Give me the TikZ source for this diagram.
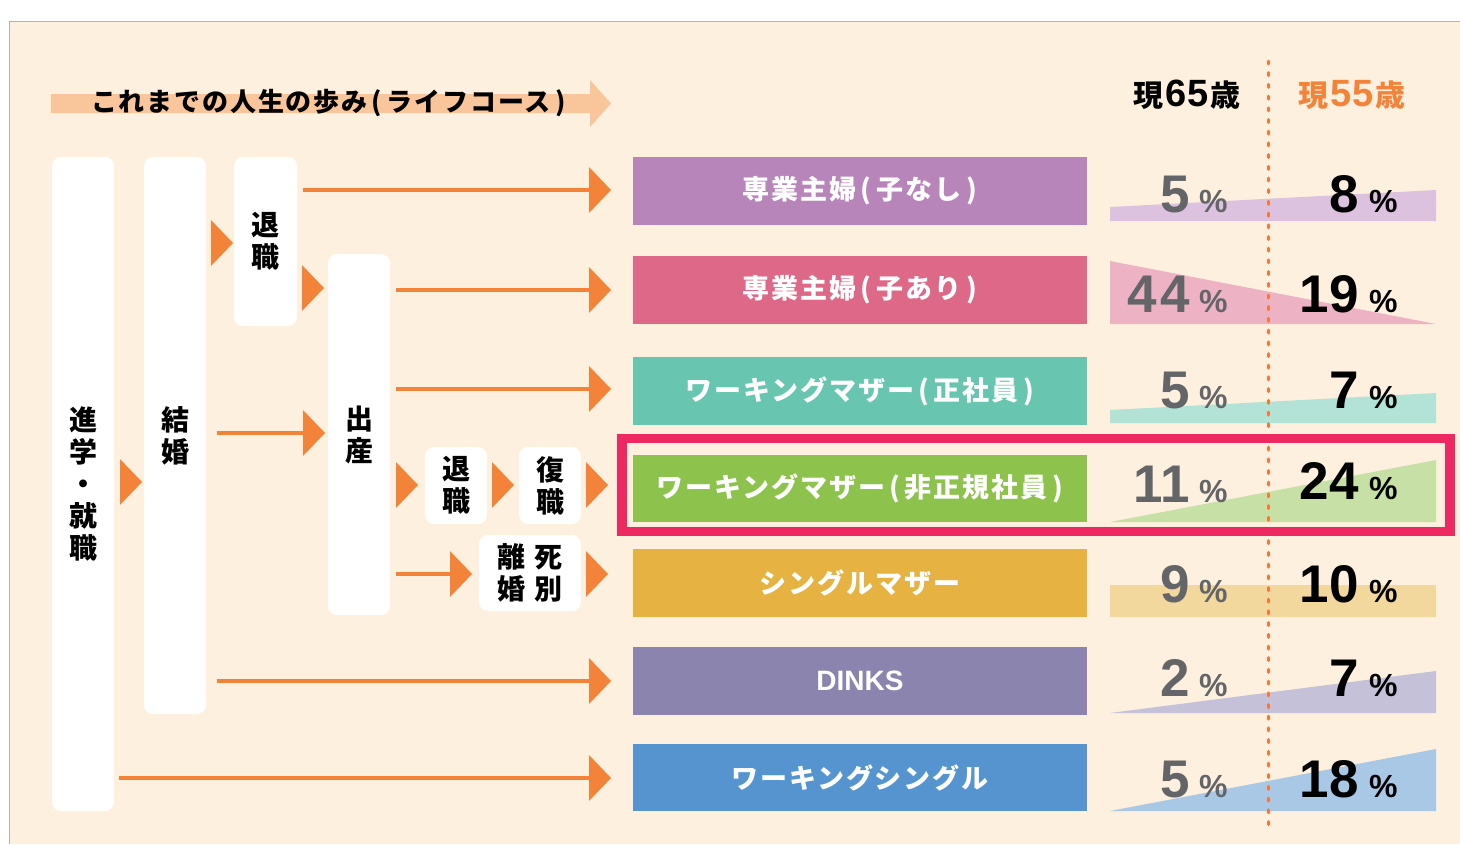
\documentclass[tikz,border=0pt]{standalone}
\usepackage{fontspec}
\setmainfont{Liberation Sans}
\newfontfamily\jp{Noto Sans CJK JP}
\newfontfamily\num{Liberation Sans}
\usetikzlibrary{calc}
\definecolor{bg}{HTML}{FDF0DE}
\definecolor{ttlband}{HTML}{F9C59A}
\definecolor{org}{HTML}{F4833A}
\definecolor{dotc}{HTML}{F3783A}
\definecolor{hl}{HTML}{EE2860}
\definecolor{cA}{HTML}{B785BA}
\definecolor{cB}{HTML}{DE6888}
\definecolor{cC}{HTML}{68C5AF}
\definecolor{cD}{HTML}{8DC24C}
\definecolor{cE}{HTML}{E6B342}
\definecolor{cF}{HTML}{8B84AE}
\definecolor{cG}{HTML}{5594CF}
\definecolor{lA}{HTML}{DCC2DF}
\definecolor{lB}{HTML}{EEB2C5}
\definecolor{lC}{HTML}{B2E3D6}
\definecolor{lD}{HTML}{C7E0A6}
\definecolor{lE}{HTML}{F2D89D}
\definecolor{lF}{HTML}{C5C1D9}
\definecolor{lG}{HTML}{A8C8E6}
\definecolor{gnum}{HTML}{636569}
\newcommand{\otri}[1]{\fill[org] (#1) -- ++(-22,-23) -- ++(0,46) -- cycle;}
\newcommand{\hdkfont}{\jp\bfseries\fontsize{30}{30}\selectfont}
\newcommand{\hdnfont}{\num\bfseries\fontsize{38}{38}\selectfont}
\newcommand{\lp}{\hspace{4pt}(\hspace{5pt}}
\newcommand{\rp}{\hspace{5pt})}
\begin{document}
\begin{tikzpicture}[x=1pt,y=-1pt,
  wbox/.style={fill=white, rounded corners=9pt, inner sep=0pt, outer sep=0pt, anchor=north west, align=center,
    font=\jp\bfseries\fontsize{28}{32}\selectfont},
  bar/.style={anchor=north west, minimum width=454pt, minimum height=68pt, inner sep=0pt, outer sep=0pt,
    text=white, font=\jp\bfseries\fontsize{27}{27}\selectfont\addfontfeature{LetterSpace=7}},
  oline/.style={draw=org, line width=4pt},
  gn/.style={anchor=base east, inner sep=0pt, text=gnum, font=\num\bfseries\fontsize{53}{53}\selectfont},
  bn/.style={anchor=base east, inner sep=0pt, text=black, font=\num\bfseries\fontsize{53}{53}\selectfont},
  gp/.style={anchor=base west, inner sep=0pt, text=gnum, font=\num\bfseries\fontsize{32}{32}\selectfont},
  bp/.style={anchor=base west, inner sep=0pt, text=black, font=\num\bfseries\fontsize{32}{32}\selectfont},
]
\useasboundingbox (0,0) rectangle (1460,844);
\fill[white] (0,0) rectangle (1460,844);
\fill[bg] (9,21) rectangle (1460,844);
\draw[black!30, line width=1pt] (9,844) -- (9,21) -- (1460,21);

% title arrow
\fill[ttlband] (51,94) -- (590,94) -- (590,80) -- (611,103.5) -- (590,127) -- (590,113) -- (51,113) -- cycle;
\node[anchor=west, inner sep=0pt, font=\jp\bfseries\fontsize{26}{26}\selectfont\addfontfeature{LetterSpace=7}] (ttl) at (91,103) {これまでの人生の歩み\lp ライフコース\rp};

% white boxes
\node[wbox, minimum width=62pt, minimum height=654pt] (b1) at (52,157) {進\\学\\・\\就\\職};
\node[wbox, minimum width=62pt, minimum height=557pt] (b2) at (144,157) {結\\婚};
\node[wbox, minimum width=63pt, minimum height=169pt] (b3) at (234,157) {退\\職};
\node[wbox, minimum width=62pt, minimum height=361pt] (b4) at (328,254) {出\\産};
\node[wbox, minimum width=62pt, minimum height=77pt] (b5) at (425,447) {退\\職};
\node[wbox, minimum width=62pt, minimum height=77pt] (b6) at (519,447) {復\\職};
\node[wbox, minimum width=102pt, minimum height=76pt] (b7) at (479,535) {離\hspace{9pt}死\\婚\hspace{9pt}別};

% bars
\node[bar, fill=cA] (r1) at (633,157) {専業主婦\lp 子なし\rp};
\node[bar, fill=cB] (r2) at (633,256) {専業主婦\lp 子あり\rp};
\node[bar, fill=cC] (r3) at (633,357) {ワーキングマザー\lp 正社員\rp};
\node[bar, fill=cD, minimum height=67pt] (r4) at (633,455) {ワーキングマザー\lp 非正規社員\rp};
\node[bar, fill=cE] (r5) at (633,549) {シングルマザー};
\node[bar, fill=cF, font=\num\bfseries\fontsize{28}{28}\selectfont] (r6) at (633,647) {DINKS};
\node[bar, fill=cG, minimum height=67pt] (r7) at (633,744) {ワーキングシングル};

% small triangles between boxes
\coordinate (t12) at ([xshift=-2pt]b2.west |- 0,482);
\coordinate (t23) at ([xshift=-1pt]b3.west |- 0,243);
\coordinate (t34) at ([xshift=-4pt]b4.west |- 0,288);
\coordinate (t45) at ([xshift=-7pt]b5.west |- 0,485);
\coordinate (t56) at ([xshift=-5pt]b6.west |- 0,485);
\coordinate (t6r) at ([xshift=-25pt]r4.west |- 0,485);
\coordinate (t7r) at ([xshift=-25pt]r5.west |- 0,574);
\otri{t12}\otri{t23}\otri{t34}\otri{t45}\otri{t56}\otri{t6r}\otri{t7r}

% arrows with lines
\coordinate (t24) at ([xshift=-3pt]b4.west |- 0,433);
\draw[oline] ([xshift=11pt]b2.east |- t24) -- ([xshift=-21pt]t24); \otri{t24}
\coordinate (t47) at ([xshift=-7pt]b7.west |- 0,574);
\draw[oline] ([xshift=6pt]b4.east |- t47) -- ([xshift=-21pt]t47); \otri{t47}
\coordinate (a1) at ([xshift=-22pt]r1.west |- 0,190);
\draw[oline] ([xshift=6pt]b3.east |- a1) -- ([xshift=-21pt]a1); \otri{a1}
\coordinate (a2) at ([xshift=-22pt]r2.west |- 0,290);
\draw[oline] ([xshift=6pt]b4.east |- a2) -- ([xshift=-21pt]a2); \otri{a2}
\coordinate (a3) at ([xshift=-22pt]r3.west |- 0,389);
\draw[oline] ([xshift=6pt]b4.east |- a3) -- ([xshift=-21pt]a3); \otri{a3}
\coordinate (a6) at ([xshift=-22pt]r6.west |- 0,681);
\draw[oline] ([xshift=11pt]b2.east |- a6) -- ([xshift=-21pt]a6); \otri{a6}
\coordinate (a7) at ([xshift=-22pt]r7.west |- 0,778);
\draw[oline] ([xshift=5pt]b1.east |- a7) -- ([xshift=-21pt]a7); \otri{a7}

% wedges
\fill[lA] (1110,207) -- (1436,190) -- (1436,221) -- (1110,221) -- cycle;
\fill[lB] (1110,261) -- (1436,324) -- (1110,324) -- cycle;
\fill[lC] (1110,410) -- (1436,393) -- (1436,423) -- (1110,423) -- cycle;
\fill[lD] (1110,522) -- (1436,460) -- (1436,522) -- cycle;
\fill[lE] (1110,585) rectangle (1436,617);
\fill[lF] (1110,713) -- (1436,671) -- (1436,713) -- cycle;
\fill[lG] (1110,811) -- (1436,749) -- (1436,811) -- cycle;

% dotted divider
\draw[dotc, line width=3pt, line cap=round, dash pattern=on 3pt off 8.7pt] (1268,61) -- (1268,828);

% highlight frame
\draw[hl, line width=9.5pt] (622,438.5) rectangle (1450,531.5);

% headers
\node[anchor=base, inner sep=0pt] (h65) at (1187,106) {{\hdkfont 現}\hspace{2pt}{\hdnfont 65}\hspace{2pt}{\hdkfont 歳}};
\node[anchor=base, inner sep=0pt, text=org] (h55) at (1352,106) {{\hdkfont 現}\hspace{2pt}{\hdnfont 55}\hspace{2pt}{\hdkfont 歳}};

% numbers
\node[gn] (g1) at (1190,212) {5};  \node[gp] at (1199,212) {\%};
\node[bn] (k1) at (1359,212) {8};  \node[bp] at (1369,212) {\%};
\node[gn] (g2) at (1190,312) {4\hspace{3pt}4}; \node[gp] at (1199,312) {\%};
\node[bn] (k2) at (1359,312) {19}; \node[bp] at (1369,312) {\%};
\node[gn] (g3) at (1190,408) {5};  \node[gp] at (1199,408) {\%};
\node[bn] (k3) at (1359,408) {7};  \node[bp] at (1369,408) {\%};
\node[gn] (g4) at (1190,502) {11}; \node[gp] at (1199,502) {\%};
\node[bn] (k4) at (1359,499) {24}; \node[bp] at (1369,499) {\%};
\node[gn] (g5) at (1190,602) {9};  \node[gp] at (1199,602) {\%};
\node[bn] (k5) at (1359,602) {10}; \node[bp] at (1369,602) {\%};
\node[gn] (g6) at (1190,696) {2};  \node[gp] at (1199,696) {\%};
\node[bn] (k6) at (1359,696) {7};  \node[bp] at (1369,696) {\%};
\node[gn] (g7) at (1190,797) {5};  \node[gp] at (1199,797) {\%};
\node[bn] (k7) at (1359,797) {18}; \node[bp] at (1369,797) {\%};
\end{tikzpicture}
\end{document}
